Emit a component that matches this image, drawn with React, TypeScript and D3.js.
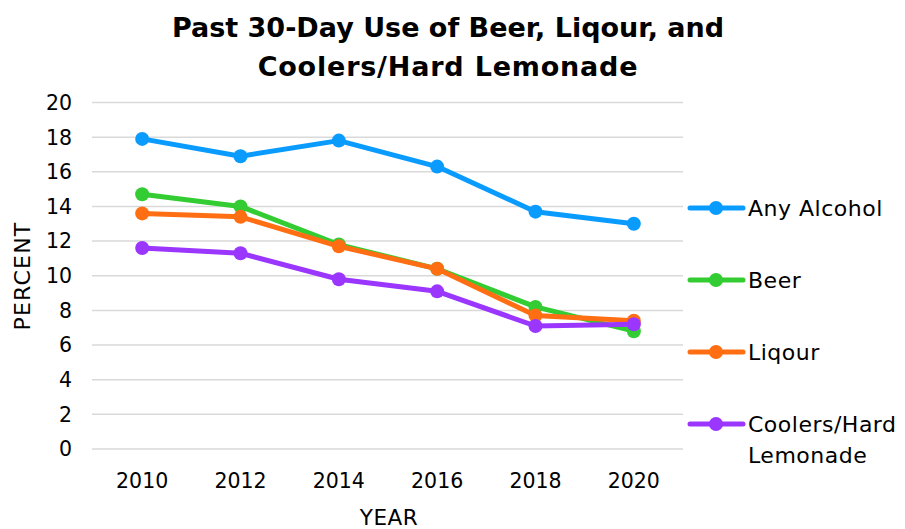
import React from "react";
import * as d3 from "d3";

const years = ["2010", "2012", "2014", "2016", "2018", "2020"];
const anyAlcohol = [17.9, 16.9, 17.8, 16.3, 13.7, 13.0];
const beer = [14.7, 14.0, 11.8, 10.4, 8.2, 6.8];
const liqour = [13.6, 13.4, 11.7, 10.4, 7.7, 7.4];
const coolers = [11.6, 11.3, 9.8, 9.1, 7.1, 7.2];
const yTicks = [0, 2, 4, 6, 8, 10, 12, 14, 16, 18, 20];

const seriesNames = ["Any Alcohol", "Beer", "Liqour", "Coolers/Hard Lemonade"];
const seriesValues = [anyAlcohol, beer, liqour, coolers];
const seriesColors = ["#0A9BFF", "#33CC33", "#FF6E12", "#9B36FF"];

const FONT = "'DejaVu Sans', sans-serif";

export default function App() {
  const W = 905, H = 529;
  const x = d3.scaleBand<string>().domain(years).range([93, 683]);
  const y = d3.scaleLinear().domain([0, 20]).range([449, 102.5]);
  const line = d3
    .line<number>()
    .x((_, i) => (x(years[i]) as number) + x.bandwidth() / 2)
    .y((d) => y(d));

  const legendY = [208, 280, 352, 424];

  return (
    <svg
      width={W}
      height={H}
      style={{ position: "absolute", left: 0, top: 0, background: "#fff" }}
      fontFamily={FONT}
    >
      <text x={448} y={37} textAnchor="middle" fontSize={27} fontWeight="bold" fill="#000">
        Past 30-Day Use of Beer, Liqour, and
      </text>
      <text x={448} y={76} textAnchor="middle" fontSize={27} fontWeight="bold" fill="#000" letterSpacing={0.8}>
        Coolers/Hard Lemonade
      </text>

      {yTicks.map((t) => (
        <g key={t}>
          <line x1={92} x2={683} y1={y(t)} y2={y(t)} stroke="#D9D9D9" strokeWidth={1.5} />
          <text x={72} y={y(t)} dy="0.36em" textAnchor="end" fontSize={20.5} fill="#000">
            {t}
          </text>
        </g>
      ))}

      {years.map((yr) => (
        <text
          key={yr}
          x={(x(yr) as number) + x.bandwidth() / 2}
          y={481}
          dy="0.36em"
          textAnchor="middle"
          fontSize={20.5}
          fill="#000"
        >
          {yr}
        </text>
      ))}

      <text x={389} y={517} dy="0.36em" textAnchor="middle" fontSize={21.5} fill="#000" letterSpacing={0.5}>
        YEAR
      </text>
      <text
        transform="translate(22,276) rotate(-90)"
        dy="0.36em"
        textAnchor="middle"
        fontSize={22}
        fill="#000"
        letterSpacing={1.2}
      >
        PERCENT
      </text>

      {seriesValues.map((vals, si) => (
        <g key={si}>
          <path d={line(vals) || ""} fill="none" stroke={seriesColors[si]} strokeWidth={5} strokeLinejoin="round" />
          {vals.map((v, i) => (
            <circle
              key={i}
              cx={(x(years[i]) as number) + x.bandwidth() / 2}
              cy={y(v)}
              r={7}
              fill={seriesColors[si]}
            />
          ))}
        </g>
      ))}

      {seriesNames.map((name, si) => {
        const ly = legendY[si];
        const parts = name === "Coolers/Hard Lemonade" ? ["Coolers/Hard", "Lemonade"] : [name];
        return (
          <g key={name}>
            <line x1={690} x2={743} y1={ly} y2={ly} stroke={seriesColors[si]} strokeWidth={5} strokeLinecap="round" />
            <circle cx={716} cy={ly} r={7} fill={seriesColors[si]} />
            {parts.map((p, pi) => (
              <text key={p} x={748} y={ly + pi * 31} dy="0.36em" fontSize={22} fill="#000" letterSpacing={0.5}>
                {p}
              </text>
            ))}
          </g>
        );
      })}
    </svg>
  );
}
